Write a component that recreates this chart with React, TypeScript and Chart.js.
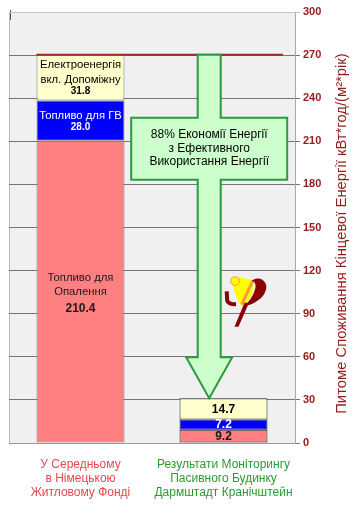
import React, { useEffect, useRef } from 'react';
import { Chart, registerables } from 'chart.js';

Chart.register(...registerables);

// ---- data ----
const categories = [
  ['У Середньому', 'в Німецькою', 'Житловому Фонді'],
  ['Результати Моніторингу', 'Пасивного Будинку', 'Дармштадт Кранічштейн'],
];
const heatingFuel = [210.4, 9.2];
const hotWaterFuel = [28.0, 7.2];
const electricity = [31.8, 14.7];
const seriesNames = ['Топливо для Опалення', 'Топливо для ГВ', 'Електроенергія вкл. Допоміжну'];
const segmentLabelLines = [['Топливо для', 'Опалення'], ['Топливо для ГВ'], ['Електроенергія', 'вкл. Допоміжну']];
const savingText = ['88% Економії Енергії', 'з Ефективного', 'Використання Енергії'];
const yTitle = 'Питоме Споживання Кінцевої Енергії кВт*год/(м²*рік)';
const yMin = 0;
const yMax = 300;
const yStep = 30;

// ---- styles ----
const FONT = '"Liberation Sans", Arial, sans-serif';
const DARK_RED = '#941c1c';
const segColors = ['#ff8080', '#0000ff', '#ffffcc'];
const segTextColors = ['#1a1a1a', '#ffffff', '#000000'];
const catColors = ['#e5484d', '#2b9a33'];

const overlayPlugin = {
  id: 'overlay',
  beforeDraw(chart: any) {
    const { ctx, chartArea: a } = chart;
    ctx.save();
    ctx.fillStyle = '#f0f0f0';
    ctx.fillRect(a.left, a.top, a.right - a.left, a.bottom - a.top);
    ctx.strokeStyle = '#bcbcbc';
    ctx.lineWidth = 1;
    ctx.beginPath();
    ctx.moveTo(a.left + 0.5, a.bottom);
    ctx.lineTo(a.left + 0.5, a.top + 0.5);
    ctx.lineTo(a.right, a.top + 0.5);
    ctx.stroke();
    ctx.strokeStyle = '#555';
    ctx.beginPath();
    ctx.moveTo(a.left + 1.5, a.top - 2);
    ctx.lineTo(a.left + 1.5, a.top + 8);
    ctx.stroke();
    ctx.restore();
  },
  afterDatasetsDraw(chart: any) {
    const { ctx, chartArea: a } = chart;
    const yScale = chart.scales.y;
    ctx.save();
    // segment labels
    chart.data.datasets.forEach((ds: any, i: number) => {
      const meta = chart.getDatasetMeta(i);
      meta.data.forEach((el: any, j: number) => {
        const { x, y, base } = el.getProps(['x', 'y', 'base'], true);
        const cy = (y + base) / 2;
        const value = ds.data[j].toFixed(1);
        ctx.fillStyle = segTextColors[i];
        ctx.textAlign = 'center';
        ctx.textBaseline = 'middle';
        if (j === 0) {
          const names = segmentLabelLines[i];
          const numSize = i === 0 ? 12 : 10;
          const gap = i === 0 ? 16.5 : 12;
          const offs: number[] = names.map((_, k) => k * 14.4);
          const numOff = offs[offs.length - 1] + gap;
          const mean = (offs.reduce((s, v) => s + v, 0) + numOff) / (offs.length + 1);
          const start = cy + 1 - mean;
          ctx.font = `11.3px ${FONT}`;
          names.forEach((n, k) => ctx.fillText(n, x, start + offs[k]));
          ctx.font = `bold ${numSize}px ${FONT}`;
          ctx.fillText(value, x, start + numOff);
        } else {
          ctx.font = `bold 12px ${FONT}`;
          ctx.fillText(value, x, cy + 0.5);
        }
      });
    });

    // reference line at the top of the first bar
    const lastMeta = chart.getDatasetMeta(chart.data.datasets.length - 1);
    const top1 = lastMeta.data[0].getProps(['x', 'y', 'width'], true);
    const top2 = lastMeta.data[1].getProps(['x', 'y', 'width'], true);
    ctx.strokeStyle = '#a02828';
    ctx.lineWidth = 2;
    ctx.beginPath();
    ctx.moveTo(top1.x - top1.width / 2, top1.y);
    ctx.lineTo(a.right - 12, top1.y);
    ctx.stroke();

    // arrow with text box
    const cx = a.left + (a.right - a.left) * 0.7;
    const topY = top1.y;
    const tipY = top2.y;
    const sw = 11.5, hw = 23, headH = 41;
    const boxL = cx - 78, boxR = cx + 78, boxT = topY + 63, boxB = topY + 125;
    ctx.beginPath();
    ctx.moveTo(cx - sw, topY);
    ctx.lineTo(cx + sw, topY);
    ctx.lineTo(cx + sw, boxT);
    ctx.lineTo(boxR, boxT);
    ctx.lineTo(boxR, boxB);
    ctx.lineTo(cx + sw, boxB);
    ctx.lineTo(cx + sw, tipY - headH);
    ctx.lineTo(cx + hw, tipY - headH);
    ctx.lineTo(cx, tipY);
    ctx.lineTo(cx - hw, tipY - headH);
    ctx.lineTo(cx - sw, tipY - headH);
    ctx.lineTo(cx - sw, boxB);
    ctx.lineTo(boxL, boxB);
    ctx.lineTo(boxL, boxT);
    ctx.lineTo(cx - sw, boxT);
    ctx.closePath();
    ctx.fillStyle = '#ccffcc';
    ctx.fill();
    ctx.strokeStyle = '#2a9a40';
    ctx.lineWidth = 2;
    ctx.lineJoin = 'miter';
    ctx.stroke();
    ctx.fillStyle = '#000';
    ctx.font = `12px ${FONT}`;
    ctx.textAlign = 'center';
    ctx.textBaseline = 'middle';
    const bc = (boxT + boxB) / 2 - 0.5;
    savingText.forEach((t, k) => ctx.fillText(t, cx, bc + (k - 1) * 13.6));

    // logo
    const ox = a.right - 47;
    const oy = yScale.getPixelForValue(100);
    ctx.translate(ox, oy);
    // yellow fan
    ctx.fillStyle = '#ffff00';
    ctx.beginPath();
    ctx.moveTo(-16.3, -17.7);
    ctx.lineTo(-9.7, -22.7);
    ctx.lineTo(5.3, -18.5);
    ctx.lineTo(4.5, -6);
    ctx.lineTo(-2, 4);
    ctx.lineTo(-7.3, 5.7);
    ctx.lineTo(-11.3, -1);
    ctx.closePath();
    ctx.fill();
    // orange stripe
    ctx.strokeStyle = '#ff9933';
    ctx.lineWidth = 3;
    ctx.beginPath();
    ctx.moveTo(5, -19);
    ctx.lineTo(-6.3, 5.2);
    ctx.stroke();
    // dark red bowl
    ctx.fillStyle = '#880000';
    ctx.beginPath();
    ctx.moveTo(3.7, -18.5);
    ctx.bezierCurveTo(7, -22, 15, -22.5, 18, -15);
    ctx.bezierCurveTo(20, -8, 13, 0, 10.3, 0.7);
    ctx.bezierCurveTo(7, 3.5, 3, 5.5, -1, 6);
    ctx.lineTo(-1.5, 4.5);
    ctx.bezierCurveTo(3, 0, 6.5, -6, 7.5, -12);
    ctx.bezierCurveTo(8, -16, 6, -18, 3.7, -18.5);
    ctx.closePath();
    ctx.fill();
    // left hook
    ctx.strokeStyle = '#880000';
    ctx.lineWidth = 4;
    ctx.beginPath();
    ctx.moveTo(-21.3, -8);
    ctx.lineTo(-20.8, 1);
    ctx.quadraticCurveTo(-20, 5, -12, 5);
    ctx.stroke();
    // stem
    ctx.beginPath();
    ctx.moveTo(-3.5, 3.5);
    ctx.lineTo(1, 3.5);
    ctx.lineTo(-9.5, 27.5);
    ctx.lineTo(-13.5, 27.5);
    ctx.closePath();
    ctx.fill();
    // small circle
    ctx.fillStyle = '#ffff00';
    ctx.strokeStyle = '#ff9933';
    ctx.lineWidth = 1;
    ctx.beginPath();
    ctx.arc(-13, -18.3, 4.3, 0, Math.PI * 2);
    ctx.fill();
    ctx.stroke();
    ctx.restore();
  },
  afterDraw(chart: any) {
    const { ctx, chartArea: a } = chart;
    ctx.save();
    ctx.translate(a.right + 47, (a.top + a.bottom) / 2 + 6);
    ctx.rotate(-Math.PI / 2);
    ctx.font = `14.8px ${FONT}`;
    ctx.fillStyle = DARK_RED;
    ctx.textAlign = 'center';
    ctx.textBaseline = 'middle';
    ctx.fillText(yTitle, 0, 0);
    ctx.restore();
  },
};

export default function App() {
  const ref = useRef<HTMLCanvasElement>(null);
  useEffect(() => {
    if (!ref.current) return;
    const series = [heatingFuel, hotWaterFuel, electricity];
    const chart = new Chart(ref.current, {
      type: 'bar',
      data: {
        labels: categories as any,
        datasets: series.map((d, i) => ({
          label: seriesNames[i],
          data: d,
          backgroundColor: segColors[i],
          borderColor: ['#7a7a7a', '#222222'],
          borderWidth: 1,
          borderSkipped: false,
          categoryPercentage: 1,
          barPercentage: 0.615,
        })),
      },
      options: {
        responsive: false,
        animation: false,
        layout: { padding: { left: 9, top: 12, right: 0, bottom: 0 } },
        plugins: { legend: { display: false }, tooltip: { enabled: false }, title: { display: false } },
        scales: {
          x: {
            stacked: true,
            grid: { display: false, drawTicks: false },
            border: { display: true, color: '#999999' },
            ticks: {
              maxRotation: 0,
              autoSkip: false,
              padding: 15,
              color: (c: any) => catColors[c.index] || '#000',
              font: { family: FONT, size: 12, lineHeight: 1.17 },
            },
            afterFit: (s: any) => { s.height = 82; },
          },
          y: {
            stacked: true,
            position: 'right',
            min: yMin,
            max: yMax,
            ticks: {
              stepSize: yStep,
              padding: 3,
              color: DARK_RED,
              font: { family: FONT, size: 11, weight: 'bold' },
            },
            grid: {
              color: (c: any) => (c.tick && c.tick.value === yMax ? '#c4c4c4' : '#767676'),
              tickLength: 5,
            },
            border: { display: true, color: '#a8a8a8' },
            afterFit: (s: any) => { s.width = 61; },
          },
        },
      },
      plugins: [overlayPlugin],
    });
    return () => chart.destroy();
  }, []);
  return (
    <div style={{ position: 'absolute', left: 0, top: 0, width: 356, height: 525, background: '#fff' }}>
      <canvas ref={ref} width={356} height={525} style={{ display: 'block' }} />
    </div>
  );
}
